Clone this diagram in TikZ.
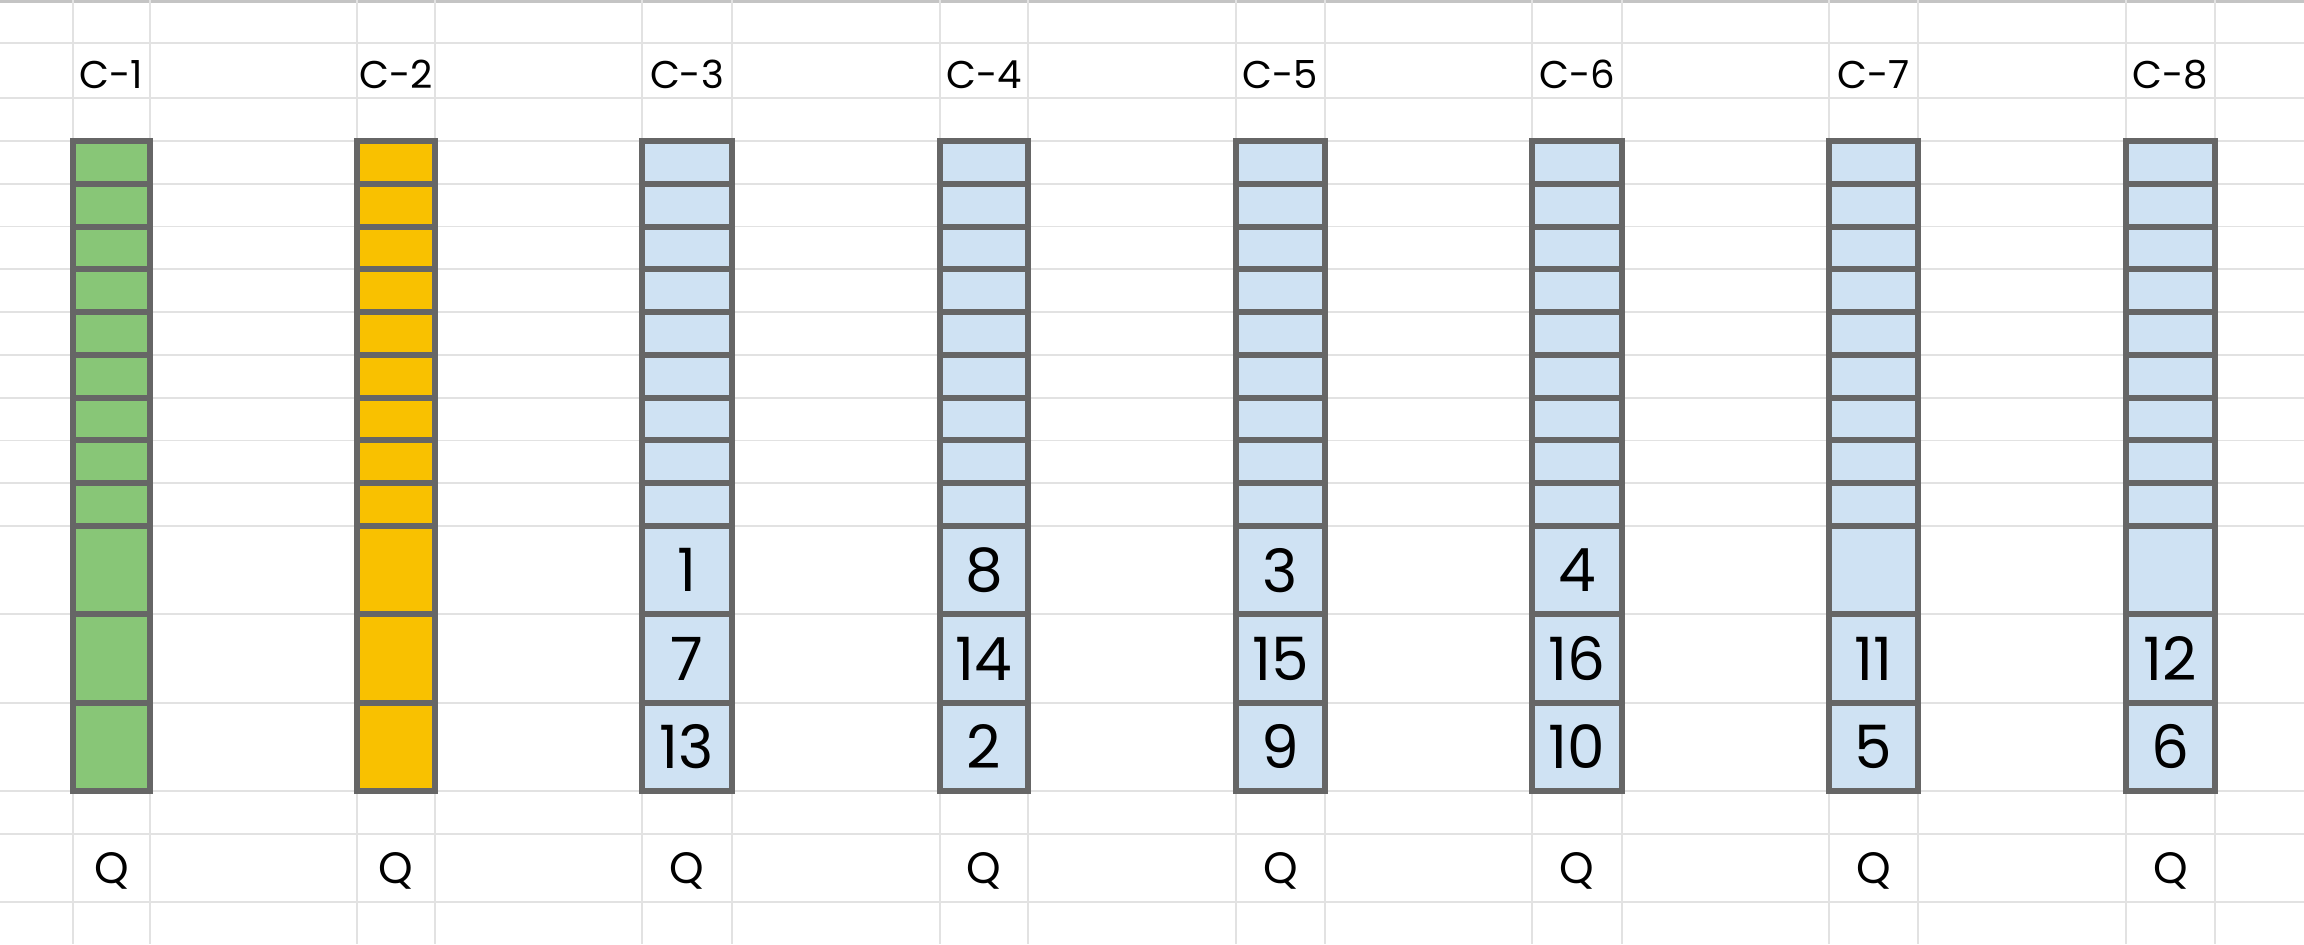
\documentclass[tikz,border=0pt]{standalone}
\usepackage{fontspec}
\setmainfont{Poppins}
\definecolor{qsGreen}{HTML}{88C677}
\definecolor{qsYellow}{HTML}{F9C100}
\definecolor{qsBlue}{HTML}{CFE2F3}
\definecolor{qsBorder}{HTML}{666666}
\definecolor{qsGrid}{HTML}{E2E2E2}
\definecolor{qsRule}{HTML}{C4C4C4}
\tikzset{
  qs grid/.style={draw=qsGrid, line width=0.018cm},
  qs rule/.style={draw=qsRule, line width=0.03cm},
  qs slot/.style={rectangle, draw=qsBorder, line width=0.06cm, inner sep=0pt},
  qs label/.style={anchor=base, font=\fontsize{11}{13}\selectfont, text=black},
  qs queue/.style={anchor=base, font=\fontsize{12.5}{15}\selectfont, text=black},
  qs number/.style={font=\fontsize{17}{20}\selectfont, text=black},
}

\begin{document}
\begin{tikzpicture}[x=0.01cm, y=-0.01cm]
  % page, one unit = one pixel of the sheet
  \useasboundingbox (0,0) rectangle (2304,944);
  \fill[white] (0,0) rectangle (2304,944);

  % sheet rows
  \foreach \y in {43,98,614.3,702.7,791,834,902} {
    \draw[qs grid] (0,\y) -- (2304,\y);
  }
  \foreach \k in {0,...,9} {
    \draw[qs grid] (0,{141+42.78*\k}) -- (2304,{141+42.78*\k});
  }
  \draw[qs rule] (0,1) -- (2304,1);

  % sheet columns, only at the edges of each queue
  \foreach \l/\r in {73/150,357/435,642/732,940/1028,1236/1325,1532/1622,1829/1918,2126/2215} {
    \draw[qs grid] (\l,0) -- (\l,944);
    \draw[qs grid] (\r,0) -- (\r,944);
  }

  % queues: number / left / right / fill / three bottom slots
  \foreach \i/\l/\r/\col/\na/\nb/\nc in {
      1/73/150/qsGreen/{}/{}/{},
      2/357/435/qsYellow/{}/{}/{},
      3/642/732/qsBlue/1/7/13,
      4/940/1028/qsBlue/8/14/2,
      5/1236/1325/qsBlue/3/15/9,
      6/1532/1622/qsBlue/4/16/10,
      7/1829/1918/qsBlue/{}/11/5,
      8/2126/2215/qsBlue/{}/12/6} {
    \pgfmathsetmacro\w{\r-\l}
    \pgfmathsetmacro\cx{(\l+\r)/2}
    \node[qs label] (lab\i) at (\cx,88) {C-\i};
    % nine thin slots
    \foreach \k in {0,...,8} {
      \node[qs slot, fill=\col, minimum width=\w*0.01cm, minimum height=0.4278cm]
        (c\i-s\k) at (\cx,{141+42.78*(\k+0.5)}) {};
    }
    % three tall slots
    \foreach \j/\t in {0/\na,1/\nb,2/\nc} {
      \node[qs slot, qs number, fill=\col, minimum width=\w*0.01cm, minimum height=0.8833cm]
        (c\i-b\j) at (\cx,{526+88.33*(\j+0.5)}) {\t};
    }
    \node[qs queue] (q\i) at (\cx,883) {Q};
  }
\end{tikzpicture}
\end{document}
